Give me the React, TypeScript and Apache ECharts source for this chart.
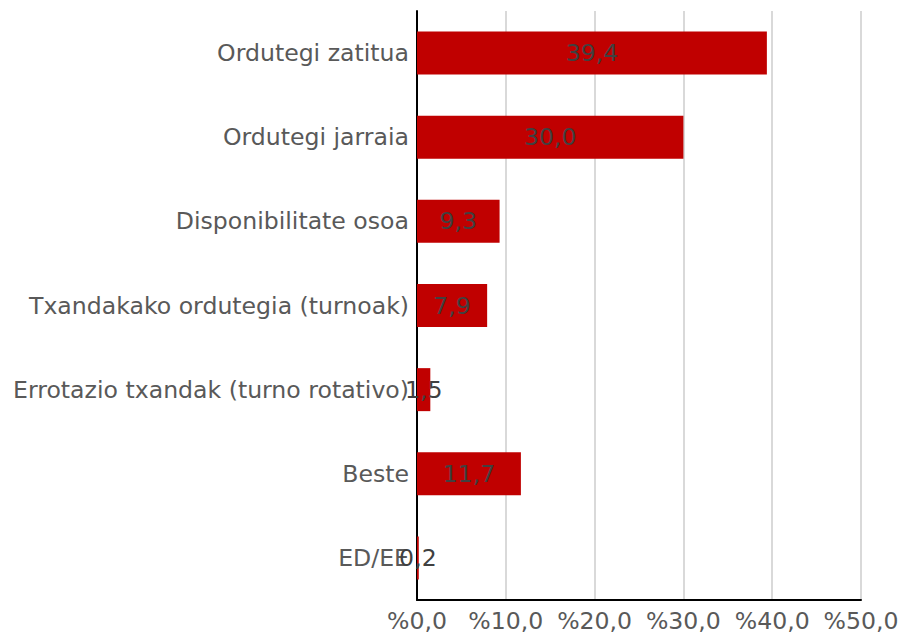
import React, { useEffect, useRef } from "react";
import * as echarts from "echarts";

const categories = [
  "Ordutegi zatitua",
  "Ordutegi jarraia",
  "Disponibilitate osoa",
  "Txandakako ordutegia (turnoak)",
  "Errotazio txandak (turno rotativo)",
  "Beste",
  "ED/EE",
];
const values = [39.4, 30.0, 9.3, 7.9, 1.5, 11.7, 0.2];
const axisMin = 0;
const axisMax = 50;
const axisStep = 10;

const fmt = (v: number) => v.toFixed(1).replace(".", ",");

export default function App() {
  const ref = useRef<HTMLDivElement>(null);
  useEffect(() => {
    document.body.style.margin = "0";
    const chart = echarts.init(ref.current!, null, { renderer: "svg" });
    const font = "DejaVu Sans";
    chart.setOption({
      animation: false,
      grid: { left: 417, right: 43, top: 11, bottom: 33, containLabel: false },
      xAxis: {
        type: "value",
        min: axisMin,
        max: axisMax,
        interval: axisStep,
        axisLine: { show: true, lineStyle: { color: "#000000", width: 2 } },
        axisTick: { show: false },
        splitLine: { show: true, lineStyle: { color: "#D9D9D9", width: 2 } },
        axisLabel: {
          formatter: (v: number) => "%" + fmt(v),
          color: "#595959",
          fontFamily: font,
          fontSize: 23.6,
          lineHeight: 24,
          margin: 9,
        },
      },
      yAxis: {
        type: "category",
        data: categories,
        inverse: true,
        axisLine: { show: true, lineStyle: { color: "#000000", width: 2 } },
        axisTick: { show: false },
        axisLabel: {
          color: "#595959",
          fontFamily: font,
          fontSize: 23.6,
          margin: 8,
        },
      },
      series: [
        {
          type: "bar",
          data: values,
          barWidth: 43,
          itemStyle: { color: "#C00000" },
          label: {
            show: true,
            position: "inside",
            formatter: (p: any) => fmt(p.value),
            color: "#404040",
            fontFamily: font,
            fontSize: 23.6,
          },
        },
      ],
    });
    return () => chart.dispose();
  }, []);
  return <div ref={ref} style={{ width: 904, height: 633 }} />;
}
